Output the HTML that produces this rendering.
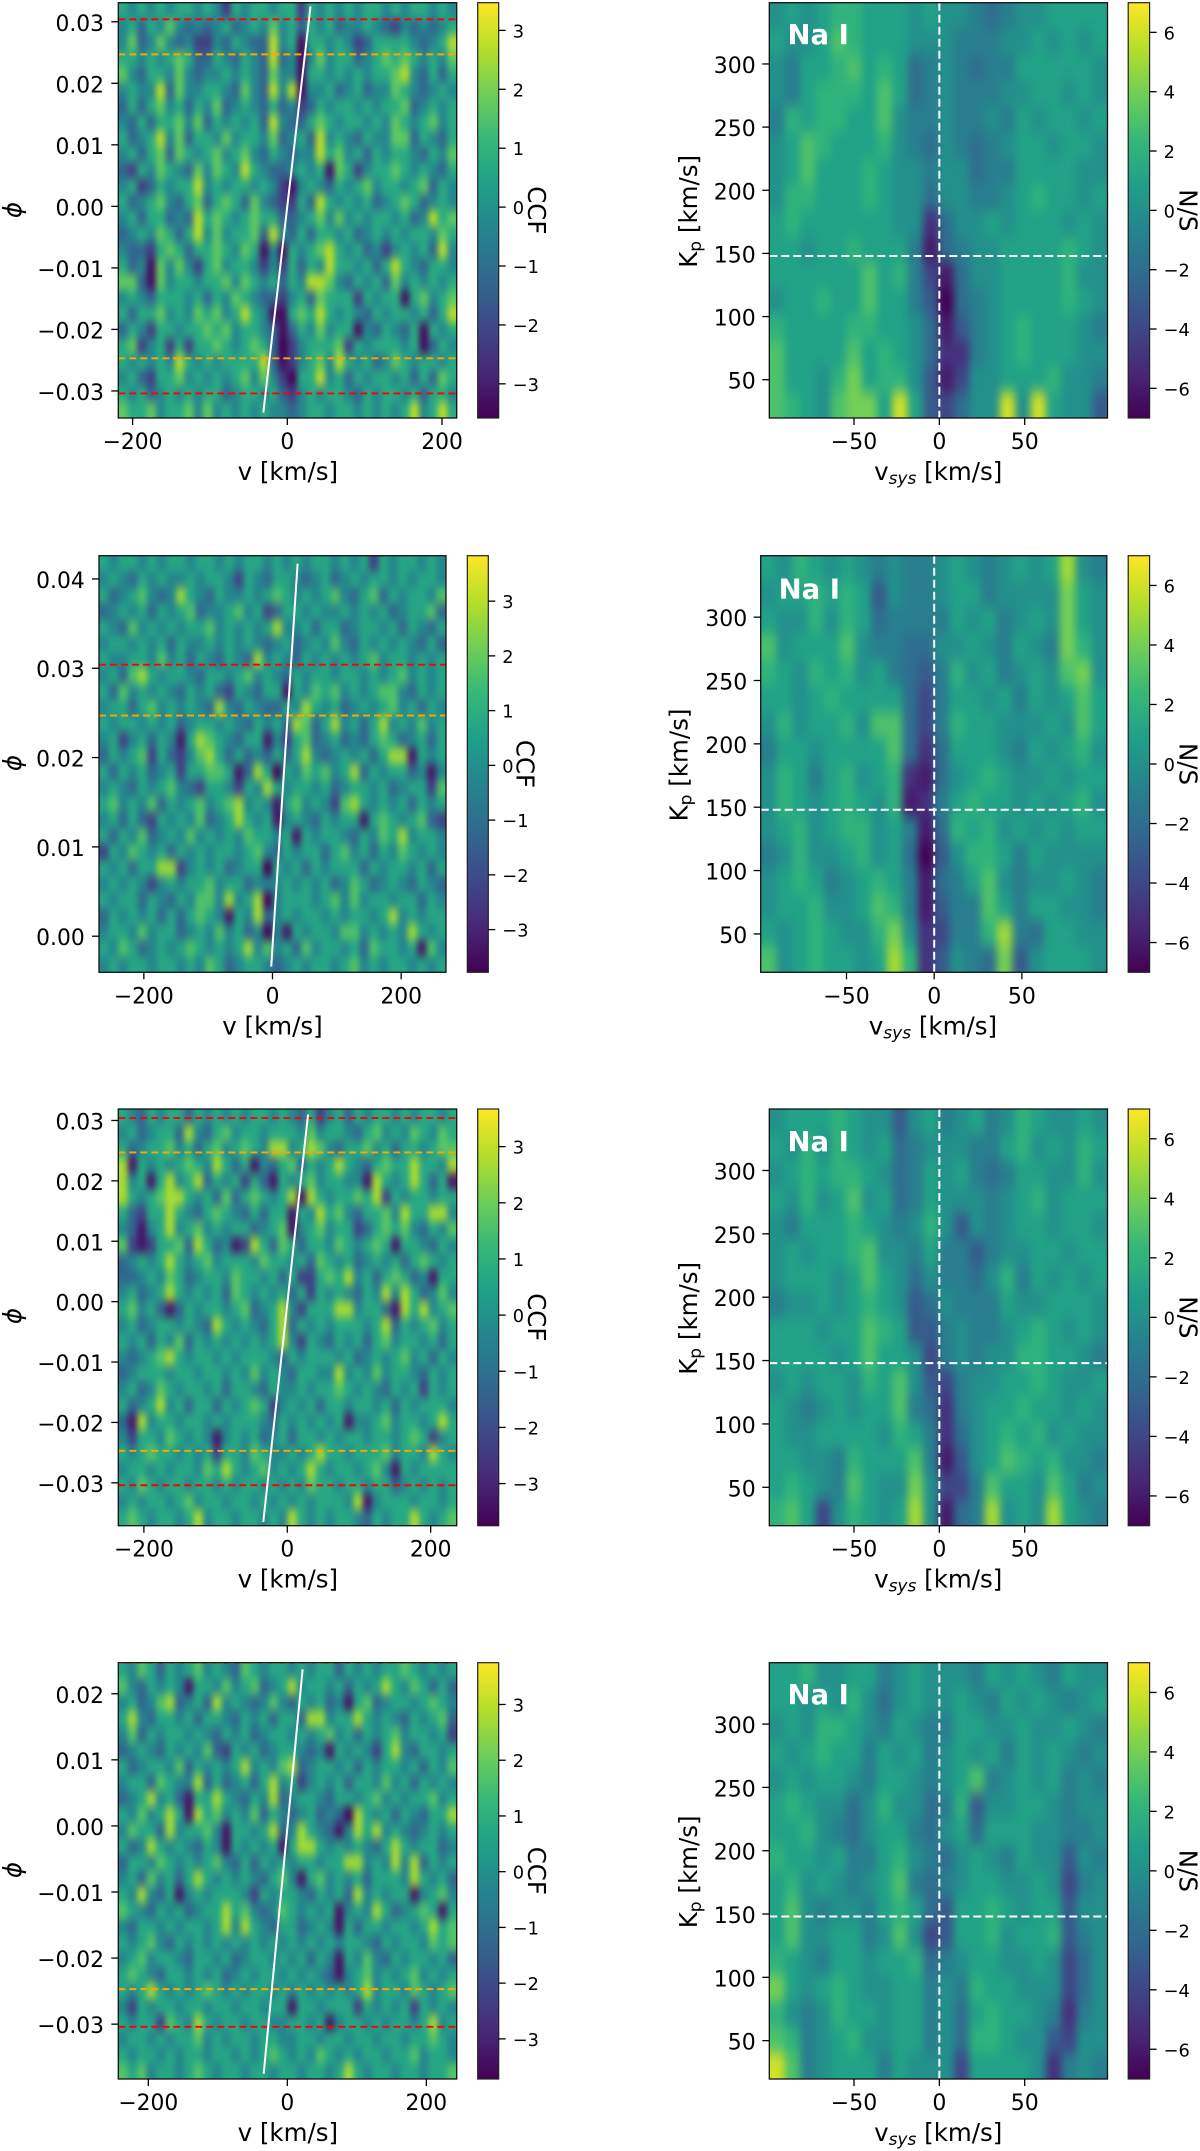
<!DOCTYPE html>
<html lang="en">
<head>
<meta charset="utf-8">
<title>CCF and Kp-vsys maps, Na I</title>
<style>
html,body{margin:0;padding:0;background:#fff;width:1200px;height:2151px;overflow:hidden}
svg{display:block}
text{font-family:"DejaVu Sans","Liberation Sans",sans-serif;fill:#000}
</style>
</head>
<body>
<svg id="figure" xmlns="http://www.w3.org/2000/svg" width="1200" height="2151" viewBox="0 0 1200 2151">
<defs id="defs">
<filter id="blurCcf" x="-5%" y="-5%" width="110%" height="110%" color-interpolation-filters="sRGB"><feGaussianBlur stdDeviation="3 5"/></filter>
<filter id="blurKp" x="-5%" y="-5%" width="110%" height="110%" color-interpolation-filters="sRGB"><feGaussianBlur stdDeviation="4 7"/></filter>
</defs>
</svg>
<script>
// ---- CCF maps: phase (rows, top to bottom) vs velocity (columns, left to right) ----
const ccfValues1 = [
[1,0,1,0,1,0,1,1,0,1,0,-2,1,0,1,1,0,1,1,-2,1,0,1,0,1,0,1,1,0,1,0,1,1,0,1,0],
[0,1,-1,1,0,2,0,-1,0,-1,0,1,-1,0,1,0,2,0,1,-1,1,0,1,-1,0,0,1,0,-1,-2,0,-1,0,-1,0,1],
[0,2,-1,0,2,0,-1,0,-2,-2,0,-1,1,0,-1,-1,3,0,1,-3,1,1,0,1,0,-2,-1,1,1,1,1,0,-1,0,1,3],
[1,1,0,1,0,1,2,1,-1,-1,1,0,-1,1,0,-1,3,-1,0,-3,0,2,0,1,1,-1,0,1,2,1,2,1,0,1,0,2],
[2,0,-1,1,1,0,2,0,-1,0,0,1,0,1,0,-1,2,0,0,-3,1,1,0,1,0,1,0,1,1,2,3,0,-1,1,-1,1],
[0,1,0,0,3,-1,2,0,0,1,1,0,-1,2,0,-1,3,0,3,-3,0,0,1,-1,0,1,-1,0,0,2,1,0,-1,0,1,0],
[-1,1,-1,1,2,0,1,-1,1,0,2,-1,0,1,0,-1,1,-1,0,-2,-1,1,0,1,1,0,1,0,1,1,2,-1,0,1,0,1],
[0,-1,1,-1,1,1,2,0,2,-1,1,0,1,0,1,-1,3,0,-1,-1,1,2,1,0,1,1,0,1,0,2,1,0,1,2,0,1],
[1,-1,0,1,3,0,2,-1,1,1,0,2,0,1,1,0,2,-1,0,1,-1,3,0,1,0,-1,1,0,0,2,2,-1,1,0,-1,1],
[0,1,-1,1,2,-1,2,1,0,1,2,0,1,2,0,-1,1,0,-1,0,0,3,1,2,0,1,-1,1,0,1,1,0,-1,1,0,2],
[-1,-2,1,0,2,1,0,-1,2,0,2,1,0,3,1,0,-1,-1,0,1,0,1,-3,2,1,-2,0,1,1,2,1,0,1,0,-1,1],
[0,1,-2,-1,1,0,1,1,3,0,1,0,1,1,0,1,0,-2,-3,0,1,0,-1,1,0,1,2,0,1,1,0,1,2,-1,1,0],
[1,-1,0,1,2,0,-1,1,2,-1,1,2,1,-1,2,0,-1,-2,-2,1,-1,3,1,0,1,0,1,-1,0,1,2,1,-1,0,1,0],
[0,1,-1,1,1,-1,0,-1,3,1,2,1,0,1,2,1,1,-1,-1,0,1,2,0,2,0,1,0,1,1,0,1,-1,0,3,1,2],
[-1,0,1,0,2,1,-1,1,3,0,2,0,1,1,2,-1,3,0,-1,1,-1,1,1,0,1,-1,0,1,0,1,0,1,1,0,2,1],
[0,-1,-1,-2,1,2,1,-1,1,1,2,1,0,2,1,-3,0,-3,1,0,1,2,3,1,0,1,-1,0,-2,0,1,0,1,-1,3,0],
[1,-1,0,-3,2,0,2,0,-2,1,2,0,1,1,0,-2,0,-2,1,-1,1,0,3,1,1,0,1,-1,1,3,1,0,-1,1,1,0],
[2,2,-1,-3,2,0,1,1,0,1,1,2,0,2,1,0,1,-1,1,0,3,3,2,0,-1,1,0,1,-1,2,0,1,0,1,0,1],
[0,1,0,-1,1,1,1,0,1,-1,1,0,2,1,0,-1,-1,-2,0,1,-1,2,1,1,1,-2,1,0,1,1,-3,1,2,0,1,2],
[1,-1,1,1,2,0,1,0,2,1,2,0,1,3,1,0,-3,-3,1,2,1,3,1,0,1,0,-1,1,0,1,1,0,1,-1,1,3],
[-1,1,0,-2,1,1,0,1,1,2,1,2,0,1,1,0,-1,-3,-1,1,0,2,0,1,1,-3,0,-1,1,0,-1,1,-3,1,0,1],
[1,2,-2,0,1,-2,1,-2,1,1,2,1,0,1,2,1,-1,-4,-2,0,1,1,1,2,-2,1,0,1,1,1,0,1,-3,-1,1,0],
[1,0,1,0,1,0,3,1,0,1,0,1,1,1,1,3,-1,-3,-2,0,1,2,0,3,1,0,1,-1,0,2,1,0,1,1,0,1],
[0,1,-1,-2,1,1,2,0,1,0,1,0,1,2,0,2,0,-2,-4,1,1,3,0,1,-1,1,0,1,1,0,1,-1,1,-1,2,1],
[1,0,1,-1,0,1,0,1,0,1,1,-1,0,1,1,0,1,-1,-2,0,1,0,1,1,0,-1,1,0,1,1,0,1,-1,1,1,0],
[2,1,1,2,0,1,1,2,0,2,0,1,0,1,0,1,0,0,-1,0,1,1,0,1,1,0,1,0,1,0,1,3,0,1,3,1]
];
const ccfValues2 = [
[1,0,1,1,0,1,0,1,1,0,1,1,0,1,0,1,1,0,1,0,1,0,1,1,0,1,0,1,-2,1,0,1,1,0,1,0],
[0,1,0,-1,1,0,1,0,0,1,0,1,1,0,-2,1,0,-1,1,1,0,-1,0,1,-1,0,1,0,1,1,0,1,0,1,1,0],
[1,-1,0,1,2,0,-1,0,3,1,0,-1,1,0,0,1,0,1,2,1,0,1,0,1,2,0,-1,1,2,-1,1,0,1,1,0,2],
[-1,0,1,0,1,-1,1,0,1,2,-1,0,0,1,2,0,1,-2,-1,1,1,0,1,0,0,1,0,1,0,1,-1,0,1,1,2,-1],
[1,0,-1,2,0,1,0,1,0,1,1,2,0,1,0,1,0,1,3,0,0,1,-1,1,1,-1,0,1,1,0,1,-1,1,0,-1,1],
[0,1,1,0,1,0,1,-1,1,0,0,1,0,1,0,1,0,-1,0,1,-1,0,1,0,2,0,-1,1,0,1,0,1,0,-1,1,-1],
[1,0,0,1,1,0,2,0,1,-1,1,0,-1,1,0,-1,3,0,1,0,-1,1,0,1,0,1,0,1,2,0,1,1,0,1,0,1],
[0,1,-1,2,3,1,0,1,1,0,-1,1,1,0,1,2,0,1,0,-1,1,0,1,1,0,1,1,0,1,0,1,2,0,1,0,1],
[1,-1,2,0,1,0,1,0,-1,1,0,1,-1,-2,1,0,-1,1,1,-3,1,0,2,1,2,0,1,0,1,2,2,0,-1,1,0,1],
[0,1,1,-1,1,2,0,1,0,1,0,-1,3,0,-1,1,0,-1,-1,1,0,3,1,0,1,-1,0,1,0,1,2,0,1,-1,1,0],
[1,0,1,1,0,1,0,1,-1,0,1,1,0,1,0,-1,1,0,1,-1,3,2,-1,1,3,0,1,-1,1,3,0,1,0,2,0,1],
[0,1,-2,0,1,-1,1,0,-3,1,3,2,1,0,-1,1,1,-3,0,-2,1,2,-1,0,1,-1,0,-1,1,2,1,-1,0,1,-1,1],
[-1,1,0,1,2,-2,1,-1,-2,0,2,3,1,-1,1,-1,0,-1,1,-1,1,3,0,-1,0,1,0,1,-1,1,3,3,-3,1,0,1],
[1,-1,1,0,1,-1,0,1,-2,1,1,2,2,1,-3,-1,3,1,-4,1,0,2,1,2,0,1,3,-1,1,0,1,1,-1,0,-3,0],
[0,1,0,-1,1,0,1,2,0,-1,-2,1,1,0,-2,1,0,3,1,0,1,1,0,1,-1,0,1,1,0,1,-1,0,1,1,-2,2],
[1,2,0,1,0,2,-1,1,0,1,2,0,1,2,3,0,1,0,-3,1,2,0,1,0,-2,2,3,1,0,1,0,1,-1,1,0,1],
[0,1,-1,1,-1,-2,1,0,1,0,2,-1,0,1,3,1,0,1,-3,0,1,0,-1,1,0,1,1,-3,1,2,1,0,1,2,-1,-2],
[1,-1,1,0,2,-1,0,1,0,2,0,1,0,1,0,2,1,1,0,1,-3,1,0,1,1,0,-1,1,0,2,1,3,0,1,1,0],
[-2,1,0,2,1,0,1,-1,1,0,1,0,1,1,0,1,2,0,-1,1,0,1,1,-1,1,2,0,1,-1,1,0,2,1,0,1,0],
[1,0,1,-1,1,1,3,3,-2,0,1,0,1,-1,0,1,1,-4,1,0,1,-1,1,0,1,1,1,-1,1,0,1,1,0,1,-1,1],
[0,1,0,1,0,-2,0,1,0,1,1,2,0,1,1,-1,0,0,0,1,0,1,0,1,-1,0,2,1,-1,0,1,0,-1,1,0,-1],
[1,0,1,1,-1,1,0,-1,1,0,2,2,0,3,0,1,3,-4,0,1,1,1,0,1,2,0,2,0,1,1,0,1,1,-1,1,0],
[-1,1,0,1,0,1,-1,1,-1,1,2,1,0,-3,1,0,3,-1,0,1,0,1,1,0,1,0,1,1,0,1,3,0,1,0,1,1],
[0,1,1,0,2,0,1,1,-1,0,1,0,2,0,1,-1,0,-4,0,-3,1,0,1,1,0,2,2,0,1,0,1,0,3,1,0,1],
[1,0,2,1,-1,0,1,0,1,2,1,0,1,0,1,3,0,2,0,1,-1,2,0,1,1,0,1,-1,2,1,1,0,1,-3,2,0],
[0,1,0,1,1,0,1,1,0,1,0,2,1,-1,0,1,1,0,-1,0,1,0,1,1,0,1,2,0,1,0,1,1,0,1,0,1]
];
const ccfValues3 = [
[1,0,-1,1,0,1,1,-1,1,0,1,0,1,0,1,1,0,1,0,-1,1,-2,0,1,-1,1,0,1,1,0,1,0,1,1,0,1],
[0,1,-1,0,1,1,-1,3,0,-1,1,2,0,1,1,0,1,1,1,0,2,0,1,1,0,-1,1,2,0,1,0,2,1,0,2,1],
[1,-1,0,1,1,2,0,1,-1,1,2,0,1,2,1,0,3,3,0,1,3,2,0,-1,1,1,2,0,1,-1,1,1,0,1,2,2],
[3,-3,1,0,1,0,1,2,1,0,3,1,-1,1,-3,0,-1,1,2,-1,1,0,1,3,1,0,-1,1,2,1,1,3,1,1,0,3],
[3,0,1,-3,1,3,0,1,3,-1,1,0,1,-2,1,-1,-3,1,0,1,2,0,1,1,0,0,-3,3,1,0,1,3,1,-1,1,-3],
[3,1,0,1,2,3,3,1,0,1,-1,2,-1,1,2,1,0,1,3,-3,3,1,0,1,1,2,1,3,-2,1,0,1,1,0,1,1],
[1,-1,-2,1,1,3,1,0,-1,1,2,1,0,-1,1,-1,1,1,-3,1,0,3,1,2,0,-1,1,1,2,0,3,1,1,3,3,0],
[0,-1,-3,0,1,3,0,1,2,0,1,0,1,1,-1,0,1,2,-3,0,1,2,0,1,1,-2,-1,1,2,1,2,0,-1,1,0,2],
[2,-2,-3,-2,1,1,2,-1,3,1,-1,0,-3,-2,3,1,-1,2,1,-1,1,1,0,2,1,0,1,2,1,-3,1,1,0,-1,1,0],
[-1,0,1,0,1,3,1,0,1,2,0,1,1,1,0,2,1,1,0,1,-1,2,1,0,1,-1,0,1,0,1,-1,1,2,1,0,1],
[-1,-1,0,1,0,2,1,-1,0,1,1,0,2,1,1,0,1,-1,1,-2,-2,1,2,1,3,0,1,-1,1,2,1,-1,0,-3,1,1],
[0,1,-1,0,1,3,1,0,1,0,1,-1,2,1,0,1,0,1,-1,1,-2,1,0,1,0,-1,1,0,3,0,3,1,-1,0,2,0],
[1,2,0,1,-1,-3,-1,1,0,1,1,0,1,2,-1,0,1,3,0,-2,1,1,1,3,3,0,1,1,-1,-3,3,1,3,0,1,2],
[0,1,-1,0,1,1,0,1,0,-1,3,1,0,1,0,-1,1,3,-1,1,0,1,0,1,1,1,0,1,3,-1,1,0,1,2,0,1],
[1,0,1,-1,1,0,2,-1,1,0,1,0,1,0,1,0,1,3,0,-2,1,0,-1,1,0,1,-1,1,2,0,1,1,0,1,-1,1],
[0,-1,0,1,2,3,1,0,1,1,0,1,0,1,1,1,0,-1,1,0,1,1,1,0,1,-1,0,1,0,1,2,0,1,-1,1,0],
[-1,0,1,1,1,0,1,1,0,1,1,0,1,0,2,0,1,0,-1,1,1,0,0,3,0,1,0,2,0,1,1,0,-1,1,0,1],
[0,1,-1,0,2,1,0,1,1,0,1,-1,1,1,0,-1,1,0,0,1,0,1,1,2,1,0,1,0,-1,1,0,1,-2,1,0,1],
[1,-1,0,1,3,0,1,-1,1,1,-1,1,0,1,2,1,-2,0,1,0,1,-1,1,1,0,1,1,0,1,-1,1,0,1,1,1,0],
[-1,-3,3,0,1,1,0,1,1,0,1,0,1,1,1,0,-1,1,0,1,0,1,0,1,-3,0,0,1,2,0,1,1,0,1,3,1],
[0,-2,1,1,0,2,1,0,1,0,-3,0,1,0,1,-1,0,1,-1,1,1,0,1,0,1,1,0,1,1,0,1,2,1,-2,0,1],
[1,0,1,2,1,1,0,1,0,1,-2,1,1,0,2,1,0,0,1,0,1,3,1,1,0,1,1,1,2,0,1,1,0,3,1,0],
[0,1,1,0,1,0,1,1,0,2,1,3,1,0,1,2,0,1,0,1,3,1,0,1,1,0,1,2,0,-3,1,0,1,1,1,1],
[1,0,2,1,0,1,1,0,1,1,0,1,0,1,1,0,1,0,1,0,2,1,1,0,1,1,0,1,1,-1,0,1,0,1,0,1],
[0,1,0,1,1,0,1,2,0,1,1,0,1,1,0,1,0,1,0,1,0,1,1,1,0,3,-3,0,1,1,1,0,1,1,0,1],
[1,2,1,0,1,1,0,1,3,0,1,1,0,1,1,0,1,0,3,1,0,1,0,1,1,0,-1,1,0,1,1,3,1,0,1,2]
];
const ccfValues4 = [
[1,0,2,1,-1,1,0,1,2,0,1,0,-1,2,1,0,1,1,0,1,0,1,1,-1,1,0,1,0,1,1,2,1,0,1,0,1],
[2,0,-1,1,0,1,0,-3,1,1,0,2,0,1,2,-1,0,1,3,0,1,1,0,1,-1,1,0,1,3,1,0,2,1,-1,1,-1],
[0,1,-1,0,2,3,-1,0,1,-1,3,0,1,0,-1,0,2,0,-1,1,0,1,-1,0,-3,1,2,-1,0,1,1,0,1,2,1,0],
[1,3,0,-1,1,1,0,1,-1,1,1,0,-1,1,0,1,-1,1,1,-1,3,3,0,1,1,3,1,0,1,0,-1,1,0,1,2,-1],
[0,2,-1,1,0,1,1,0,1,0,-1,1,0,1,-1,0,1,1,0,1,0,1,2,0,1,-1,1,0,1,2,0,1,1,0,1,-2],
[-1,0,1,0,-1,1,0,1,0,2,-1,-2,1,0,1,-1,0,1,1,0,-1,0,-3,1,0,1,0,-2,1,3,0,-1,1,1,0,1],
[1,-1,0,1,1,0,2,-1,1,0,1,0,1,3,0,1,0,2,3,-1,0,1,1,0,1,-1,1,0,1,1,0,1,-1,1,0,2],
[0,1,1,-1,2,1,0,0,3,-1,1,-1,0,1,-1,1,3,0,1,-2,0,1,0,1,-1,1,1,0,2,0,1,-1,1,0,1,0],
[-1,0,1,3,0,1,-1,-3,1,1,3,1,0,-1,1,0,3,-1,0,1,1,0,-1,1,1,0,1,2,0,1,0,1,1,2,0,1],
[1,0,2,0,1,3,1,-3,3,1,2,0,1,0,2,-1,1,0,-1,0,1,-1,0,-1,-4,3,1,0,1,-1,1,0,-1,1,1,3],
[0,2,1,1,-1,3,0,1,1,2,0,-3,1,1,0,1,3,-1,0,3,1,0,-1,-3,0,3,1,3,0,1,0,-1,0,1,0,1],
[1,-1,0,3,1,0,1,0,-1,1,0,-3,1,0,1,0,1,-3,1,3,3,1,0,1,0,1,0,-1,1,3,1,0,1,1,-1,0],
[-1,1,1,0,2,1,0,1,0,1,2,0,-1,1,-1,1,0,1,0,1,1,0,1,1,3,3,0,1,0,3,0,3,-1,1,0,1],
[0,1,-1,2,0,1,-1,1,3,1,0,1,0,1,0,-1,1,2,0,-3,1,2,0,1,0,1,-1,1,1,1,0,3,1,0,1,-1],
[1,0,3,0,-1,1,-3,0,1,0,1,1,1,0,-2,1,0,1,1,0,-1,1,0,1,-1,3,0,1,0,1,1,-3,0,1,2,0],
[2,1,0,-1,1,0,1,-1,0,1,1,3,1,2,0,-1,0,2,1,0,1,0,1,-3,0,1,0,3,1,-1,0,1,2,1,-3,1],
[0,-1,1,1,0,1,0,1,1,0,1,3,0,3,1,0,-1,1,1,-1,0,1,0,-3,1,-1,1,1,0,1,1,0,1,3,1,2],
[1,0,1,2,0,-1,1,0,1,0,1,0,1,0,1,0,1,0,1,0,1,0,1,0,1,1,0,-1,1,0,1,1,0,2,1,2],
[0,1,2,0,1,1,0,-1,1,1,0,1,-1,0,1,1,0,1,0,1,-1,1,0,-3,1,0,2,0,-1,1,0,1,1,0,1,-1],
[1,2,1,0,-1,1,1,0,1,0,1,-1,0,1,0,1,1,0,1,0,1,0,-1,-3,0,1,2,0,1,0,1,2,0,1,0,1],
[1,0,1,3,1,0,1,0,1,2,1,0,1,0,1,1,0,1,0,1,0,1,0,1,0,1,3,0,1,1,0,2,1,0,1,2],
[0,-2,1,0,1,1,0,1,1,0,1,1,0,1,1,0,1,1,-3,1,1,0,1,1,1,-2,1,0,1,0,1,-2,1,0,1,0],
[1,0,1,1,-2,2,1,0,3,1,0,1,1,0,1,1,0,0,1,1,0,1,-3,0,1,1,0,1,0,1,1,0,1,3,0,1],
[0,1,1,0,1,0,1,1,2,0,1,0,1,1,0,1,1,0,0,1,1,0,1,1,0,1,1,0,1,1,0,1,1,2,1,0],
[1,0,1,1,0,1,0,1,1,0,1,1,0,1,0,1,2,1,0,1,0,2,1,0,1,0,1,1,0,1,1,2,0,1,1,0],
[2,1,2,0,1,1,0,1,2,1,0,1,1,0,1,1,0,1,1,0,1,1,0,1,3,1,0,1,1,0,1,1,0,1,1,2]
];
// ---- Kp-vsys maps: Kp (rows, high to low) vs vsys (columns, low to high) ----
const kpValues1 = [
[0,1,0,1,2,2,1,1,1,0,1,0,0,-1,-2,-1,0,0,1,1,1,1],
[1,0,0,1,3,2,1,1,1,0,0,0,-1,-1,-1,0,0,1,0,1,0,1],
[0,-1,1,1,2,3,1,2,1,-2,-1,0,-1,-2,-1,-1,1,1,1,1,1,0],
[0,-1,1,2,2,2,1,3,1,-2,-1,0,-1,-1,-1,0,0,1,1,0,1,0],
[-1,2,1,2,2,1,1,3,0,-1,-1,0,-1,-1,0,-1,1,0,1,1,0,1],
[0,1,3,2,1,1,1,2,0,-1,-2,0,-1,-2,-1,0,1,1,0,1,1,0],
[0,1,3,1,1,1,2,1,0,0,-1,0,0,-2,-1,-1,1,1,1,1,0,0],
[0,2,2,1,1,1,2,1,0,0,-2,0,0,-1,-1,0,1,2,1,1,0,1],
[1,2,1,1,1,1,1,1,0,0,-5,-2,0,0,1,0,1,1,1,0,1,0],
[1,1,0,1,1,2,1,1,1,-1,-6,-2,-1,0,0,1,1,1,1,2,1,0],
[1,1,1,1,1,1,3,1,2,-1,-4,-6,-2,0,0,1,1,1,1,2,0,0],
[0,1,1,2,1,1,3,1,1,-1,-3,-7,-2,-1,0,1,1,1,1,2,1,0],
[2,1,1,1,1,2,2,1,1,0,-2,-6,-3,-1,0,1,2,1,1,1,0,-1],
[3,1,1,1,1,3,1,2,1,0,-2,-5,-5,-1,0,1,2,1,1,1,0,0],
[3,1,1,0,2,4,1,2,2,0,-3,-6,-4,0,0,1,1,1,2,0,0,-1],
[3,2,1,0,3,4,4,1,6,1,-3,-4,-2,0,0,6,0,6,1,0,0,-3]
];
const kpValues2 = [
[1,0,2,1,0,1,0,-1,0,-1,-1,0,1,0,-1,0,1,0,1,5,0,-1],
[0,1,1,2,1,2,1,-3,0,-1,-1,0,1,1,-1,0,0,0,0,4,1,0],
[1,0,0,2,0,2,1,-2,-1,-1,-1,-1,1,0,1,-1,0,1,0,4,1,0],
[3,0,1,1,1,3,0,-1,-1,-2,-2,0,0,1,0,-1,1,0,-1,4,2,0],
[2,1,0,2,1,2,0,1,-1,-2,-3,-1,2,0,1,-1,0,1,0,3,4,0],
[1,1,0,1,2,1,1,1,1,-2,-4,-1,1,1,0,1,-1,1,0,1,3,1],
[0,2,0,1,1,2,0,3,3,-2,-4,-1,2,1,1,0,0,0,1,0,3,1],
[-1,1,1,0,1,1,1,1,3,-2,-5,-2,1,1,1,0,-1,1,0,1,2,0],
[0,2,1,-1,1,2,0,1,2,-5,-6,-2,0,1,2,1,0,0,1,0,1,1],
[0,2,1,0,1,2,1,0,2,-6,-5,-1,1,2,1,1,0,1,0,1,2,0],
[0,1,2,0,1,2,2,0,1,-1,-6,-2,2,1,2,0,1,0,1,0,1,1],
[-1,0,2,0,0,1,2,0,1,-2,-7,-3,0,2,2,1,-1,1,0,0,0,0],
[0,1,2,1,-1,0,1,2,1,-1,-6,-2,-1,1,3,0,-1,0,0,1,0,-1],
[0,1,1,2,0,0,1,3,2,-1,-6,-3,-1,-1,3,1,-1,1,1,0,0,-1],
[1,0,1,2,1,0,0,2,4,0,-5,-4,-1,-1,2,5,-1,-2,1,1,0,0],
[3,0,1,2,1,1,0,1,5,2,-5,-3,0,-1,-2,4,-3,0,1,1,1,0]
];
const kpValues3 = [
[0,1,1,1,2,1,0,0,-3,0,1,-1,0,1,-1,0,2,1,0,0,1,0],
[1,0,2,0,2,1,0,1,-2,-1,0,0,0,-1,-1,1,2,0,1,0,2,1],
[0,1,2,1,2,2,1,0,-2,-1,1,0,1,-1,-2,-1,1,1,0,0,2,0],
[1,0,2,0,1,3,0,1,-2,-1,1,0,0,0,-1,0,1,2,0,1,1,1],
[0,-1,1,1,1,2,1,0,-1,0,2,0,-3,0,-1,0,1,1,0,1,1,0],
[0,1,0,1,1,2,3,0,0,-1,1,-1,-1,-3,-1,0,0,1,1,0,1,1],
[0,1,1,1,0,1,3,1,0,-2,0,-1,-1,-2,0,2,-1,1,0,1,0,1],
[-1,0,0,1,0,1,2,1,0,-3,-2,0,-1,-1,-1,1,0,0,1,1,1,0],
[1,1,1,0,1,1,3,2,1,-3,-3,-1,0,-1,-1,0,1,2,1,0,1,0],
[1,1,1,1,0,1,3,1,1,0,-4,-1,0,-1,0,0,2,2,1,1,0,-1],
[0,1,0,1,1,0,2,1,3,0,-3,-4,-1,0,0,1,1,2,1,0,0,1],
[1,0,-1,0,1,0,1,1,3,-1,-2,-5,-1,0,1,1,2,1,1,0,1,0],
[1,0,0,1,1,1,1,0,2,1,-1,-5,-2,0,1,2,1,2,0,1,0,0],
[1,1,0,0,-1,2,1,1,1,3,-1,-6,-3,0,1,3,2,1,2,0,0,-1],
[1,2,1,0,-1,3,1,0,0,4,0,-4,-4,-1,3,1,1,0,3,1,-1,0],
[2,3,1,-4,0,2,1,0,1,5,0,-6,-2,-1,5,0,1,0,5,1,0,-1]
];
const kpValues4 = [
[1,1,2,0,0,1,1,-1,0,1,0,0,0,-1,1,0,1,0,-1,1,0,0],
[1,1,0,1,0,2,0,-2,0,1,0,0,1,0,-1,1,0,1,0,-1,0,1],
[0,1,0,2,2,1,0,-1,1,0,-1,-1,1,1,0,0,1,0,0,1,0,-1],
[1,0,1,2,1,1,-1,1,0,1,-1,0,1,0,1,-1,1,0,1,0,-1,0],
[0,1,0,1,1,0,-1,1,1,0,-1,0,1,3,-1,0,1,0,1,-1,0,-1],
[1,2,1,0,0,-2,0,2,0,0,-2,-1,2,-3,0,0,1,1,0,-1,0,0],
[1,1,2,0,-1,-2,0,1,1,-1,-2,0,1,-2,1,1,1,0,0,-1,-1,0],
[2,1,1,0,1,-1,-1,1,2,0,-1,-2,0,1,0,-1,1,0,0,-3,0,-1],
[1,2,0,1,0,-1,0,1,3,-1,-2,-1,0,1,1,0,0,1,0,-4,-1,0],
[1,3,0,-1,0,0,-1,1,2,1,-2,-3,1,1,2,1,0,1,1,-3,0,0],
[1,3,0,0,1,1,-1,0,3,0,-4,-3,1,1,2,0,1,1,2,-3,-1,0],
[2,1,0,-1,1,1,0,1,1,2,-2,-1,0,1,1,0,0,1,0,-4,-2,0],
[4,1,0,1,2,1,0,0,1,1,-1,0,-1,2,1,1,0,0,0,-4,-2,0],
[2,0,-1,0,2,1,1,0,1,1,-1,0,-2,1,2,1,1,0,-1,-5,-1,0],
[3,2,-1,0,1,2,0,0,1,1,-1,0,-2,2,2,1,0,0,-3,-4,0,0],
[6,3,-1,0,1,1,1,-1,1,0,0,0,-4,1,1,1,1,0,-5,-1,0,-1]
];
// ---- ticks ----
const ccfVTicks1 = [-200, 0, 200];
const ccfVTicks2 = [-200, 0, 200];
const ccfVTicks3 = [-200, 0, 200];
const ccfVTicks4 = [-200, 0, 200];
const ccfPhiTicks1 = [0.03, 0.02, 0.01, 0, -0.01, -0.02, -0.03];
const ccfPhiTicks2 = [0.04, 0.03, 0.02, 0.01, 0];
const ccfPhiTicks3 = [0.03, 0.02, 0.01, 0, -0.01, -0.02, -0.03];
const ccfPhiTicks4 = [0.02, 0.01, 0, -0.01, -0.02, -0.03];
const ccfBarTicks = [-3, -2, -1, 0, 1, 2, 3];
const kpVsysTicks = [-50, 0, 50];
const kpTicks = [300, 250, 200, 150, 100, 50];
const kpBarTicks = [-6, -4, -2, 0, 2, 4, 6];
// ---- reference lines ----
const phiRedLines = [0.0304, -0.0304];
const phiOrangeLines = [0.0247, -0.0247];
const trailPhi1 = [-0.0335, 0.0325];
const trailV1 = [-31, 30];
const trailPhi2 = [-0.0034, 0.0417];
const trailV2 = [-2, 39];
const trailPhi3 = [-0.0365, 0.0310];
const trailV3 = [-33.5, 29];
const trailPhi4 = [-0.0375, 0.0237];
const trailV4 = [-34, 22];
const kpPlanet = [148];
const vsysRest = [0];
const speciesLabel = "Na I";

const NS = "http://www.w3.org/2000/svg";
const fig = document.getElementById("figure");
const defs = document.getElementById("defs");
const viridis = ["#440154","#482878","#3e4989","#31688e","#26828e","#1f9e89","#35b779","#6ece58","#b5de2b","#fde725"];
function rgbOf(h){return [parseInt(h.substr(1,2),16),parseInt(h.substr(3,2),16),parseInt(h.substr(5,2),16)];}
function cmap(t){
  t=Math.max(0,Math.min(1,t))*(viridis.length-1);
  const i=Math.min(viridis.length-2,Math.floor(t)),f=t-i;
  const a=rgbOf(viridis[i]),b=rgbOf(viridis[i+1]);
  return "rgb("+a.map((c,k)=>Math.round(c+(b[k]-c)*f)).join(",")+")";
}
function linear(d0,d1,r0,r1){return v=>r0+(v-d0)/(d1-d0)*(r1-r0);}
function fmtMinus(s){return String(s).replace("-","\u2212");}
function make(tag,parent){const el=document.createElementNS(NS,tag);parent.appendChild(el);return el;}
function addText(parent,html,x,y,size,rot,anchor){
  const el=make("text",parent);
  el.innerHTML=html;
  el.setAttribute("font-size",size);
  el.setAttribute("text-anchor",anchor);
  el.setAttribute("transform","translate("+x+" "+y+") rotate("+rot+")");
  return el;
}
function addTick(parent,x1,y1,x2,y2){
  const el=make("line",parent);
  el.setAttribute("x1",x1);el.setAttribute("y1",y1);el.setAttribute("x2",x2);el.setAttribute("y2",y2);
  el.setAttribute("stroke","#000");el.setAttribute("stroke-width","1.3");
  
  
  return el;
}
function addHeatmap(parent,values,box,vmin,vmax,filterId,clipId,baseline){
  const clip=make("clipPath",defs);
  clip.setAttribute("id",clipId);
  const cr=make("rect",clip);
  cr.setAttribute("x",box.x0);cr.setAttribute("y",box.y0);cr.setAttribute("width",box.x1-box.x0);cr.setAttribute("height",box.y1-box.y0);
  const outer=make("g",parent);
  outer.setAttribute("clip-path","url(#"+clipId+")");
  
  
  const inner=make("g",outer);
  inner.setAttribute("filter","url(#"+filterId+")");
  const rows=values.length,cols=values[0].length;
  const px=linear(0,cols,box.x0,box.x1),py=linear(0,rows,box.y0,box.y1);
  values.forEach((row,r)=>row.forEach((val,c)=>{
    const el=make("rect",inner);
    const pad=24;
    const x0=c===0?px(c)-pad:px(c),x1=c===cols-1?px(c+1)+pad:px(c+1);
    const y0=r===0?py(r)-pad:py(r),y1=r===rows-1?py(r+1)+pad:py(r+1);
    el.setAttribute("x",x0);el.setAttribute("y",y0);
    el.setAttribute("width",x1-x0+0.5);el.setAttribute("height",y1-y0+0.5);
    el.setAttribute("fill",cmap((val-baseline-vmin)/(vmax-vmin)));
    
    
  }));
}
function addFrame(parent,box){
  const el=make("rect",parent);
  el.setAttribute("x",box.x0);el.setAttribute("y",box.y0);el.setAttribute("width",box.x1-box.x0);el.setAttribute("height",box.y1-box.y0);
  el.setAttribute("fill","none");el.setAttribute("stroke","#111");el.setAttribute("stroke-width","1.3");
  
  
}
function addColorbar(parent,box,vmin,vmax,ticks,gradId,labelText,labelX){
  const grad=make("linearGradient",defs);
  grad.setAttribute("id",gradId);
  grad.setAttribute("x1","0");grad.setAttribute("y1","1");grad.setAttribute("x2","0");grad.setAttribute("y2","0");
  viridis.forEach((c,i)=>{
    const s=make("stop",grad);
    s.setAttribute("offset",i/(viridis.length-1));
    s.setAttribute("stop-color",c);
  });
  const g=make("g",parent);
  
  
  const bar=make("rect",g);
  bar.setAttribute("x",box.x0);bar.setAttribute("y",box.y0);bar.setAttribute("width",box.x1-box.x0);bar.setAttribute("height",box.y1-box.y0);
  bar.setAttribute("fill","url(#"+gradId+")");
  bar.setAttribute("stroke","#222");bar.setAttribute("stroke-width","1.2");
  
  
  const sy=linear(vmin,vmax,box.y1,box.y0);
  ticks.forEach(t=>{
    addTick(g,box.x1,sy(t),box.x1+7,sy(t));
    const lab=addText(g,fmtMinus(t),box.x1+14,sy(t)+7,17.8,0,"start");
    
    
  });
  const title=addText(g,labelText,labelX,(box.y0+box.y1)/2,24.5,90,"middle");
  
  
}
function addHLine(parent,box,y,color,width,dash){
  const el=make("line",parent);
  el.setAttribute("x1",box.x0);el.setAttribute("x2",box.x1);el.setAttribute("y1",y);el.setAttribute("y2",y);
  el.setAttribute("stroke",color);el.setAttribute("stroke-width",width);el.setAttribute("stroke-dasharray",dash);
  return el;
}
function drawCcf(id,box,bar,xd,yd,bd,values,vTicks,phiTicks,trailPhi,trailV,labX,phiY,cbLabelX){
  const g=make("g",fig);
  
  
  addHeatmap(g,values,box,bd[0],bd[1],"blurCcf","clipCcf"+id,0.3);
  const sx=linear(xd[0],xd[1],box.x0,box.x1),sy=linear(yd[0],yd[1],box.y1,box.y0);
  const lines=make("g",g);
  lines.setAttribute("clip-path","url(#clipCcf"+id+")");
  
  
  phiOrangeLines.forEach(p=>{
    const el=addHLine(lines,box,sy(p),"#ffa500","1.9","7 4");
    
    
  });
  phiRedLines.forEach(p=>{
    const el=addHLine(lines,box,sy(p),"#ff0000","1.9","7 4");
    
    
  });
  const trail=make("line",lines);
  trail.setAttribute("x1",sx(trailV[0]));trail.setAttribute("y1",sy(trailPhi[0]));
  trail.setAttribute("x2",sx(trailV[1]));trail.setAttribute("y2",sy(trailPhi[1]));
  trail.setAttribute("stroke","#fff");trail.setAttribute("stroke-width","2");
  
  
  addFrame(g,box);
  vTicks.forEach(t=>{
    addTick(g,sx(t),box.y1,sx(t),box.y1+7);
    const lab=addText(g,fmtMinus(t),sx(t),box.y1+31,21.8,0,"middle");
    
    
  });
  phiTicks.forEach(t=>{
    addTick(g,box.x0,sy(t),box.x0-7,sy(t));
    const lab=addText(g,fmtMinus(t.toFixed(2)),box.x0-14.3,sy(t)+9,21.8,0,"end");
    
    
  });
  const xt=addText(g,"v [km/s]",labX,box.y1+62,24.5,0,"middle");
  
  
  const yt=addText(g,"\u03D5",21,phiY,24.5,-90,"middle");
  yt.setAttribute("font-style","italic");
  
  
  addColorbar(g,{x0:bar[0],x1:bar[1],y0:box.y0,y1:box.y1},bd[0],bd[1],ccfBarTicks,"gradCcf"+id,"CCF",cbLabelX);
}
function drawKp(id,box,bar,xd,values,labX,kpLabelX,textX,textY){
  const g=make("g",fig);
  
  
  addHeatmap(g,values,box,-7,7,"blurKp","clipKp"+id,0);
  const sx=linear(xd[0],xd[1],box.x0,box.x1),sy=linear(19.7,348.5,box.y1,box.y0);
  const lines=make("g",g);
  
  
  kpPlanet.forEach(k=>{
    const el=addHLine(lines,box,sy(k),"#fff","2","8 4");
    
    
  });
  vsysRest.forEach(v=>{
    const el=make("line",lines);
    el.setAttribute("x1",sx(v));el.setAttribute("x2",sx(v));el.setAttribute("y1",box.y0);el.setAttribute("y2",box.y1);
    el.setAttribute("stroke","#fff");el.setAttribute("stroke-width","2");el.setAttribute("stroke-dasharray","8 4");
    
    
  });
  addFrame(g,box);
  kpVsysTicks.forEach(t=>{
    addTick(g,sx(t),box.y1,sx(t),box.y1+7);
    const lab=addText(g,fmtMinus(t),sx(t),box.y1+31,22,0,"middle");
    
    
  });
  kpTicks.forEach(t=>{
    addTick(g,box.x0,sy(t),box.x0-7,sy(t));
    const lab=addText(g,t,box.x0-13.5,sy(t)+9,22,0,"end");
    
    
  });
  const xt=addText(g,'v<tspan dy="4" font-size="17" font-style="italic">sys</tspan><tspan dy="-4"> [km/s]</tspan>',labX,box.y1+62,24.5,0,"middle");
  
  
  const yt=addText(g,'K<tspan dy="4" font-size="17">p</tspan><tspan dy="-4"> [km/s]</tspan>',kpLabelX,(box.y0+box.y1)/2+1,24.5,-90,"middle");
  
  
  const sp=addText(g,speciesLabel,textX,textY,27.5,0,"start");
  sp.setAttribute("font-weight","bold");
  sp.setAttribute("style","fill:#fff");
  
  
  addColorbar(g,{x0:bar[0],x1:bar[1],y0:box.y0,y1:box.y1},-7,7,kpBarTicks,"gradKp"+id,"N/S",1179.3);
}
drawCcf(1,{x0:118.3,x1:456.7,y0:2.7,y1:418},[477.7,498.7],[-218.5,219],[-0.0344,0.0331],[-3.58,3.47],ccfValues1,ccfVTicks1,ccfPhiTicks1,trailPhi1,trailV1,287.8,210,528);
drawCcf(2,{x0:99,x1:446,y0:555.7,y1:972.3},[467.3,488.3],[-269.7,269.7],[-0.00404,0.0426],[-3.78,3.83],ccfValues2,ccfVTicks2,ccfPhiTicks2,trailPhi2,trailV2,272.5,763,516.6);
drawCcf(3,{x0:118.3,x1:456.7,y0:1109,y1:1525.7},[477.7,498.7],[-235.7,236.3],[-0.0371,0.0319],[-3.75,3.67],ccfValues3,ccfVTicks3,ccfPhiTicks3,trailPhi3,trailV3,287.8,1316,528);
drawCcf(4,{x0:118.3,x1:456.7,y0:1662.7,y1:2079},[477.7,498.7],[-243.2,243.7],[-0.0383,0.0247],[-3.72,3.75],ccfValues4,ccfVTicks4,ccfPhiTicks4,trailPhi4,trailV4,287.8,1870,528);
drawKp(1,{x0:769.3,x1:1107.5,y0:2.7,y1:418},[1128.2,1149.6],[-99.6,98.5],kpValues1,938.2,697,787.5,44);
drawKp(2,{x0:760.7,x1:1106.8,y0:555.7,y1:972.3},[1128.2,1149.6],[-98.9,98.4],kpValues2,932.9,687.5,778.6,598.3);
drawKp(3,{x0:769.3,x1:1107.5,y0:1109,y1:1525.7},[1128.2,1149.6],[-99.6,98.5],kpValues3,938.2,697,787.5,1151);
drawKp(4,{x0:769.3,x1:1107.5,y0:1662.7,y1:2079},[1128.2,1149.6],[-99.6,98.5],kpValues4,938.2,697,787.5,1704);
</script>
</body>
</html>
